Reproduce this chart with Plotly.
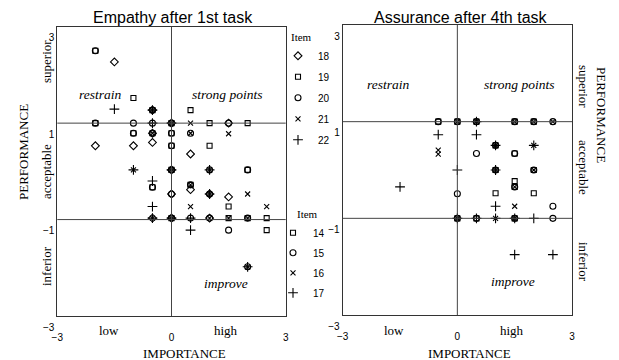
import plotly.graph_objects as go

# ---------------- data ----------------
# Empathy after 1st task (items 18-22): (importance, performance)
emp_items = ["18", "19", "20", "21", "22"]
emp18_x = [-1.5, -2, -1, -0.5, 0.5, 0, -0.5, -0.5, 1.5, 0, 0.5, 0, 1, 1.5, -0.5, 0, 1]
emp18_y = [2.27, 0.53, 0.53, 0.6, 0.36, 1.0, 0.79, 1.27, 1.0, 0.03, -0.38, -0.47, -0.47, -0.53, -0.97, -0.97, -0.97]
emp19_x = [-2, -1, 0.5, -0.5, -2, 0, 1, 2, -1, -0.5, 0, 0, 1, 2, -0.5, 0.5, 1.5, 0, 1.5, 2, 2.5, 2.5, 0]
emp19_y = [2.5, 1.52, 1.27, 1.27, 1.0, 1.0, 1.0, 1.0, 0.79, 0.79, 0.79, 0.53, 0.53, 0.03, -0.33, -0.28, -0.73, -0.97, -0.97, -0.97, -0.97, -1.22, 0.03]
emp20_x = [-2, -2, -1, -0.5, 0, -1, -0.5, 0, 0.5, 0, 0, 1, 2, -0.5, 0.5, 0, 1, 0, 0.5, 1, 2, 1.5, 1.5, -0.5, 2]
emp20_y = [2.5, 1.0, 1.0, 1.0, 1.0, 0.79, 0.79, 0.79, 0.79, 0.53, 0.03, 0.03, 0.03, -0.33, -0.28, -0.47, -0.47, -0.97, -0.97, -0.97, -0.97, -1.22, 1.0, 1.27, -1.98]
emp21_x = [-0.5, 0.5, 0, -0.5, 0.5, 1.5, -1, 1, 0, 0.5, 1, 2, 0.5, 2.5, -0.5, 0, 1, 1.5, 2, 2]
emp21_y = [1.27, 1.0, 1.0, 0.79, 0.79, 0.78, 0.03, 0.03, 0.03, -0.28, -0.47, -0.47, -0.73, -0.73, -0.97, -0.97, -0.97, -0.97, -0.97, -1.98]
emp22_x = [-1.5, -0.5, -1, 1, 0, -0.5, -0.5, -0.5, 0, 0.5, 1, 0.5, 2, 0, -0.5]
emp22_y = [1.29, 1.0, 0.03, 0.03, 0.03, -0.2, -0.73, -0.97, -0.97, -0.97, -0.47, -1.22, -1.98, 1.0, 1.27]

# Assurance after 4th task (items 14-17)
ass_items = ["14", "15", "16", "17"]
ass14_x = [-0.5, 0, 0.5, 1.5, 2, 1, 1.5, 1, 2, 1.5, 1.5, 1, 2, 0, 0.5, 1.5]
ass14_y = [1, 1, 1, 1, 1, 0.51, 0.34, 0, 0, -0.23, -0.35, -0.48, -0.48, -1, -1, -1]
ass15_x = [-0.5, 0, 0.5, 1.5, 2, 2.5, 1, 0.5, 1.5, 1, 2, 1.5, 0, 2.5, 0, 0.5, 1.5, 2.5]
ass15_y = [1, 1, 1, 1, 1, 1, 0.51, 0.34, 0.34, 0, 0, -0.35, -0.49, -0.75, -1, -1, -1, -1]
ass16_x = [0, 0.5, 1.5, 2, 2.5, -0.5, -0.5, 1, 2, 1, 2, 1.5, 1.5, 0, 1.5, 1]
ass16_y = [1, 1, 1, 1, 1, 0.41, 0.33, 0.51, 0.51, 0, 0, -0.35, -0.75, -1, -1, -1]
ass17_x = [-0.5, 0.5, 0.5, 1, 2, 0, 1, -1.5, 1, 0, 0.5, 1, 2, 1.5, 1.5, 2.5]
ass17_y = [0.73, 0.73, 1, 0.51, 0.51, 0, 0, -0.35, -0.75, -1, -1, -1, -1, -1, -1.75, -1.75]

x_ticks = [-3, 0, 3]
y_ticks = [-3, -1, 1, 3]

# ---------------- styling ----------------
W, H = 619, 360
SERIF = "Liberation Serif, Times New Roman, serif"
SANS = "Liberation Sans, Arial, sans-serif"
symbols = {"18": "diamond-open", "19": "square-open", "20": "circle-open", "21": "x-thin-open", "22": "cross-thin-open",
           "14": "square-open", "15": "circle-open", "16": "x-thin-open", "17": "cross-thin-open"}
sizes = {"diamond-open": 6, "square-open": 5, "circle-open": 6, "x-thin-open": 5, "cross-thin-open": 7}

fig = go.Figure()

emp_data = {"18": (emp18_x, emp18_y), "19": (emp19_x, emp19_y), "20": (emp20_x, emp20_y),
            "21": (emp21_x, emp21_y), "22": (emp22_x, emp22_y)}
ass_data = {"14": (ass14_x, ass14_y), "15": (ass15_x, ass15_y), "16": (ass16_x, ass16_y), "17": (ass17_x, ass17_y)}

for it in emp_items:
    xs, ys = emp_data[it]
    s = symbols[it]
    fig.add_trace(go.Scatter(x=xs, y=ys, mode="markers", name=it, xaxis="x", yaxis="y", legend="legend",
                             legendgroup="e" + it,
                             marker=dict(symbol=s, size=sizes[s], color="black", line=dict(color="black", width=1.1))))
for it in ass_items:
    xs, ys = ass_data[it]
    s = symbols[it]
    fig.add_trace(go.Scatter(x=xs, y=ys, mode="markers", name=it, xaxis="x2", yaxis="y2", legend="legend2",
                             legendgroup="a" + it,
                             marker=dict(symbol=s, size=sizes[s], color="black", line=dict(color="black", width=1.1))))

def px(x):
    return x / W

def py(y):
    return 1 - y / H

axis_common = dict(showgrid=False, zeroline=False, showline=True, mirror=True, linecolor="#333", linewidth=1,
                   ticks="", automargin=False, tickfont=dict(family=SANS, size=10, color="black"), fixedrange=True)

fig.update_layout(
    template="none",
    width=W, height=H, margin=dict(l=0, r=0, t=0, b=0, pad=0, autoexpand=False),
    paper_bgcolor="white", plot_bgcolor="white",
    xaxis=dict(domain=[px(57.3), px(285.7)], range=[-3, 3], tickvals=x_ticks, anchor="y",
               ticklabelstandoff=12, **axis_common),
    yaxis=dict(domain=[py(316), py(26.7)], range=[-3, 3], tickvals=y_ticks, anchor="x",
               ticklabelshift=11, **axis_common),
    xaxis2=dict(domain=[px(342.7), px(572)], range=[-3, 3], tickvals=x_ticks, anchor="y2",
                ticklabelstandoff=12, **axis_common),
    yaxis2=dict(domain=[py(315), py(25)], range=[-3, 3], tickvals=y_ticks, anchor="x2",
                ticklabelshift=11, **axis_common),
    legend=dict(x=px(278), y=py(27), xanchor="left", yanchor="top", bgcolor="rgba(0,0,0,0)",
                font=dict(family=SANS, size=10, color="black"),
                title=dict(text="&nbsp;&nbsp;&nbsp;&nbsp;Item", font=dict(family=SERIF, size=11, color="black")),
                tracegroupgap=2, itemclick=False),
    legend2=dict(x=px(273), y=py(204), xanchor="left", yanchor="top", bgcolor="rgba(0,0,0,0)",
                 font=dict(family=SANS, size=10, color="black"),
                 title=dict(text="&nbsp;&nbsp;&nbsp;&nbsp;&nbsp;&nbsp;&nbsp;&nbsp;Item", font=dict(family=SERIF, size=11, color="black")),
                 tracegroupgap=1, itemclick=False),
    showlegend=True,
)

# quadrant lines
for xa, ya in (("x", "y"), ("x2", "y2")):
    fig.add_shape(type="line", xref=xa, yref=ya + " domain", x0=0, x1=0, y0=0, y1=1,
                  line=dict(color="#444", width=1))
    for yv in (1, -1):
        fig.add_shape(type="line", xref=xa + " domain", yref=ya, x0=0, x1=1, y0=yv, y1=yv,
                      line=dict(color="#444", width=1))

ann = []
C = dict(xanchor="center", yanchor="middle", showarrow=False)
# titles
ann.append(dict(text="Empathy after 1st task", x=px(173), y=py(17), xref="paper", yref="paper",
                font=dict(family=SANS, size=16, color="black"), **C))
ann.append(dict(text="Assurance after 4th task", x=px(461), y=py(17), xref="paper", yref="paper",
                font=dict(family=SANS, size=16, color="black"), **C))
# quadrant names
it_font = dict(family=SERIF, size=13.5, color="black")
for xa, ya, pts in (("x", "y", [("restrain", -1.87, 1.6), ("strong points", 1.45, 1.6), ("improve", 1.43, -2.32)]),
                    ("x2", "y2", [("restrain", -1.8, 1.77), ("strong points", 1.62, 1.77), ("improve", 1.45, -2.31)])):
    for t, xv, yv in pts:
        ann.append(dict(text="<i>%s</i>" % t, x=xv, y=yv, xref=xa, yref=ya, font=it_font, **C))
    ann.append(dict(text="low", x=-1.65, y=py(330), xref=xa, yref="paper",
                    font=dict(family=SERIF, size=13, color="black"), **C))
    ann.append(dict(text="high", x=1.42, y=py(330), xref=xa, yref="paper",
                    font=dict(family=SERIF, size=13, color="black"), **C))
    ann.append(dict(text="IMPORTANCE", x=0.33, y=py(353), xref=xa, yref="paper",
                    font=dict(family=SERIF, size=13, color="black"), **C))

serif13 = dict(family=SERIF, size=13, color="black")
# left side labels
ann.append(dict(text="PERFORMANCE", x=px(23), y=py(152), xref="paper", yref="paper", textangle=-90, font=serif13, **C))
for t, yy in (("superior", 62), ("acceptable", 172), ("inferior", 266)):
    ann.append(dict(text=t, x=px(46), y=py(yy), xref="paper", yref="paper", textangle=-90, font=serif13, **C))
# right side labels
ann.append(dict(text="PERFORMANCE", x=px(601), y=py(115), xref="paper", yref="paper", textangle=90, font=serif13, **C))
for t, yy in (("superior", 86), ("acceptable", 167), ("inferior", 262)):
    ann.append(dict(text=t, x=px(584), y=py(yy), xref="paper", yref="paper", textangle=90, font=serif13, **C))

fig.update_layout(annotations=ann)
fig.write_html("out.html", config={"displayModeBar": False},
               post_script="document.body.style.margin='0';document.body.style.overflow='hidden';")
